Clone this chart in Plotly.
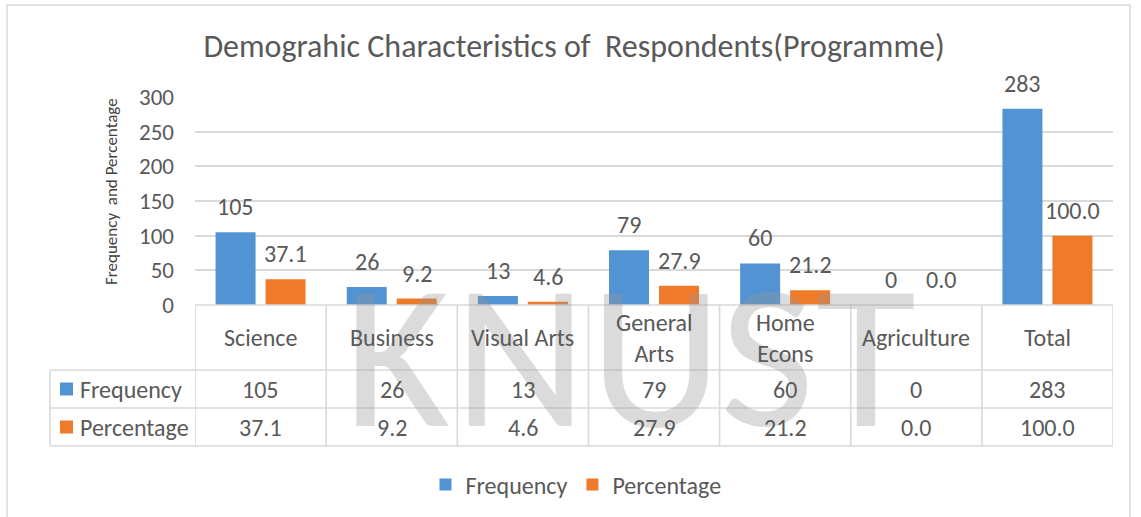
import plotly.graph_objects as go

categories = ["Science", "Business", "Visual Arts", "General Arts", "Home Econs", "Agriculture", "Total"]
category_labels = ["Science", "Business", "Visual Arts", "General<br>Arts", "Home<br>Econs", "Agriculture", "Total"]
frequency = [105, 26, 13, 79, 60, 0, 283]
percentage = [37.1, 9.2, 4.6, 27.9, 21.2, 0.0, 100.0]
series_names = ["Frequency", "Percentage"]
y_ticks = [0, 50, 100, 150, 200, 250, 300]
title_text = "Demograhic Characteristics of\u00a0 Respondents(Programme)"
y_title = "Frequency\u00a0 and Percentage"
watermark = ["K", "N", "U", "S", "T"]

W, H = 1141, 517
FONT = "Carlito, Calibri, Lato, sans-serif"
TXT = "#595959"
GRID = "#d9d9d9"
BLUE = "#5193d3"
ORANGE = "#ee7a2a"

def px(x):
    return x / W

def py(y):
    return 1 - y / H

X0, X1 = 195, 1113
Y_TOP, Y_ZERO = 97, 305
ROW1, ROW2, ROW3 = 370, 408, 446
LEFT = 50
FS = 24

fig = go.Figure()
fig.add_trace(go.Bar(x=categories, y=frequency, name=series_names[0],
                     marker=dict(color=BLUE, line=dict(width=0))))
fig.add_trace(go.Bar(x=categories, y=percentage, name=series_names[1],
                     marker=dict(color=ORANGE, line=dict(width=0))))

ann = []
# watermark letters (decorative)
wm_x = [397, 520, 656, 767, 866]
for ch, cx in zip(watermark, wm_x):
    ann.append(dict(text=ch, x=px(cx), y=py(356), xref="paper", yref="paper",
                    showarrow=False, xanchor="center", yanchor="middle",
                    font=dict(family=FONT, size=205, color="rgba(150,150,150,0.34)")))

# data labels
for c, v in zip(categories, frequency):
    ann.append(dict(text=str(v), x=c, y=v, xref="x", yref="y", xshift=-25, yshift=9,
                    showarrow=False, yanchor="bottom", font=dict(family=FONT, size=FS, color=TXT)))
for c, v in zip(categories, percentage):
    ann.append(dict(text=f"{v:.1f}", x=c, y=v, xref="x", yref="y", xshift=25, yshift=9,
                    showarrow=False, yanchor="bottom", font=dict(family=FONT, size=FS, color=TXT)))

# table text
for c, lab in zip(categories, category_labels):
    ann.append(dict(text=lab, x=c, y=py((Y_ZERO + ROW1) / 2), xref="x", yref="paper",
                    showarrow=False, yanchor="middle", font=dict(family=FONT, size=FS, color=TXT)))
for c, v in zip(categories, frequency):
    ann.append(dict(text=str(v), x=c, y=py((ROW1 + ROW2) / 2), xref="x", yref="paper",
                    showarrow=False, yanchor="middle", font=dict(family=FONT, size=FS, color=TXT)))
for c, v in zip(categories, percentage):
    ann.append(dict(text=f"{v:.1f}", x=c, y=py((ROW2 + ROW3) / 2), xref="x", yref="paper",
                    showarrow=False, yanchor="middle", font=dict(family=FONT, size=FS, color=TXT)))
# row headers
for name, yc in zip(series_names, [(ROW1 + ROW2) / 2, (ROW2 + ROW3) / 2]):
    ann.append(dict(text=name, x=px(78), y=py(yc), xref="paper", yref="paper",
                    showarrow=False, xanchor="left", yanchor="middle",
                    font=dict(family=FONT, size=FS, color=TXT)))
# y title
ann.append(dict(text=y_title, x=px(111), y=py(192), xref="paper", yref="paper",
                showarrow=False, textangle=-90, xanchor="center", yanchor="middle",
                font=dict(family=FONT, size=17, color="#404040")))

shapes = []
# outer chart border
shapes.append(dict(type="rect", xref="paper", yref="paper", x0=px(7), x1=px(1130), y0=py(530), y1=py(5),
                   line=dict(color=GRID, width=1.5), layer="below"))
lw = 1.6
# horizontal table lines
shapes.append(dict(type="line", xref="paper", yref="paper", x0=px(X0), x1=px(X1), y0=py(Y_ZERO), y1=py(Y_ZERO),
                   line=dict(color=GRID, width=lw)))
for yy in [ROW1, ROW2, ROW3]:
    shapes.append(dict(type="line", xref="paper", yref="paper", x0=px(LEFT), x1=px(X1), y0=py(yy), y1=py(yy),
                       line=dict(color=GRID, width=lw)))
# vertical table lines
for i in range(len(categories) + 1):
    shapes.append(dict(type="line", xref="x", yref="paper", x0=i - 0.5, x1=i - 0.5, y0=py(Y_ZERO), y1=py(ROW3),
                       line=dict(color=GRID, width=lw)))
shapes.append(dict(type="line", xref="paper", yref="paper", x0=px(LEFT), x1=px(LEFT), y0=py(ROW1), y1=py(ROW3),
                   line=dict(color=GRID, width=lw)))
# legend keys inside table
for col, yc in zip([BLUE, ORANGE], [(ROW1 + ROW2) / 2, (ROW2 + ROW3) / 2]):
    shapes.append(dict(type="rect", xref="paper", yref="paper", x0=px(60), x1=px(73), y0=py(yc + 6.5), y1=py(yc - 6.5),
                       fillcolor=col, line=dict(width=0)))

fig.update_layout(
    width=W, height=H, autosize=False,
    margin=dict(l=0, r=0, t=0, b=0, pad=0, autoexpand=False),
    paper_bgcolor="white", plot_bgcolor="white",
    barmode="group", bargap=0.2375, bargroupgap=0.2,
    title=dict(text=title_text, x=px(574), y=py(46), xanchor="center", yanchor="middle",
               font=dict(family=FONT, size=32, color=TXT)),
    xaxis=dict(domain=[px(X0), px(X1)], range=[-0.5, len(categories) - 0.5],
               showticklabels=False, showgrid=False, zeroline=False, showline=False, automargin=False),
    yaxis=dict(domain=[py(Y_ZERO), py(Y_TOP)], range=[0, 300], tickvals=y_ticks,
               showgrid=True, gridcolor=GRID, gridwidth=1.5, zeroline=False, showline=False,
               ticks="", ticklabelstandoff=20, automargin=False,
               tickfont=dict(family=FONT, size=23, color=TXT)),
    legend=dict(orientation="h", x=px(576), y=py(485), xanchor="center", yanchor="middle",
                font=dict(family=FONT, size=FS, color=TXT), itemclick=False),
    annotations=ann, shapes=shapes,
)

fig.write_html("out.html", config={"displayModeBar": False},
               post_script="document.body.style.margin='0';")
